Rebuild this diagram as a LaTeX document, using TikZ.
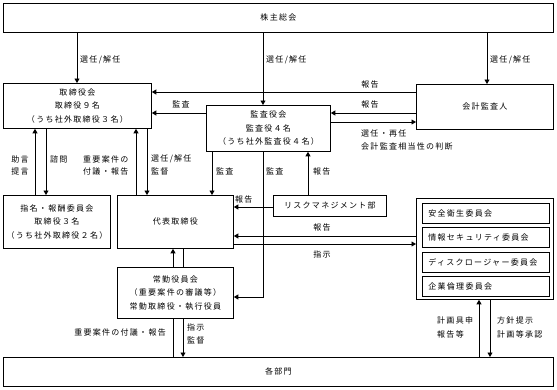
\documentclass[tikz,border=0pt]{standalone}
\usepackage{fontspec}
\setmainfont{Noto Sans CJK JP}[LetterSpace=16]
\usetikzlibrary{arrows.meta}
\begin{document}
\begin{tikzpicture}[x=1pt,y=-1pt,
  box/.style={draw,line width=0.8pt,fill=white,inner sep=0pt,anchor=north west,align=center,font=\fontsize{8}{13.5}\selectfont},
  sub/.style={box,minimum width=127pt,minimum height=20pt,inner xsep=6pt,text width=115pt,align=left},
  lab/.style={inner sep=0pt,font=\fontsize{8}{12}\selectfont},
  arr/.style={line width=0.8pt,-{Triangle[length=4.5pt,width=5pt]}},
  ln/.style={line width=0.8pt}]
\useasboundingbox (0,0) rectangle (557,389);
\fill[white] (0,0) rectangle (557,389);
% boxes
\node[box,minimum width=550pt,minimum height=29pt] (soukai) at (3,3) {株主総会};
\node[box,minimum width=148pt,minimum height=45pt] (tori) at (3,83) {取締役会\\取締役９名\\（うち社外取締役３名）};
\node[box,minimum width=124pt,minimum height=46pt] (kansa) at (206,105) {監査役会\\監査役４名\\（うち社外監査役４名）};
\node[box,minimum width=137pt,minimum height=45pt] (kaikei) at (416,84) {会計監査人};
\node[box,minimum width=107pt,minimum height=53pt] (shimei) at (3,195) {指名・報酬委員会\\取締役３名\\（うち社外取締役２名）};
\node[box,minimum width=116pt,minimum height=53pt] (daihyo) at (117,195) {代表取締役};
\node[box,minimum width=113pt,minimum height=21pt] (risk) at (273,195) {リスクマネジメント部};
\node[box,minimum width=137pt,minimum height=101pt] (comm) at (416,198) {};
\node[sub] (s1) at (422,203) {安全衛生委員会};
\node[sub] (s2) at (422,227.3) {情報セキュリティ委員会};
\node[sub] (s3) at (422,251.6) {ディスクロージャー委員会};
\node[sub] (s4) at (422,275.9) {企業倫理委員会};
\node[box,minimum width=116pt,minimum height=51pt] (joukin) at (117,267) {常勤役員会\\（重要案件の審議等）\\常勤取締役・執行役員};
\node[box,minimum width=550pt,minimum height=29pt] (kakubu) at (3,357) {各部門};
% guide coordinates
\coordinate (c77) at (77,0);
\coordinate (c263) at (263,0);
\coordinate (c487) at (487,0);
\coordinate (c35) at (35,0);
\coordinate (c46) at (46,0);
\coordinate (c136) at (136,0);
\coordinate (c147) at (147,0);
\coordinate (c212) at (212,0);
\coordinate (c308) at (308,0);
\coordinate (c173) at (173,0);
\coordinate (c183) at (183,0);
\coordinate (c479) at (479,0);
\coordinate (c490) at (490,0);
\coordinate (y92) at (0,92);
\coordinate (y113) at (0,113);
\coordinate (y122) at (0,122);
\coordinate (y207) at (0,207);
\coordinate (y236) at (0,236);
\coordinate (y244) at (0,244);
\coordinate (y297) at (0,297);
% connectors
\draw[arr] (soukai.south -| c77) -- (tori.north -| c77);
\draw[arr] (soukai.south -| c263) -- (kansa.north -| c263);
\draw[arr] (soukai.south -| c487) -- (kaikei.north -| c487);
\draw[arr] (kaikei.west |- y92) -- (tori.east |- y92);
\draw[arr] (kansa.west |- y113) -- (tori.east |- y113);
\draw[arr] (kaikei.west |- y113) -- (kansa.east |- y113);
\draw[arr] (kansa.east |- y122) -- (kaikei.west |- y122);
\draw[arr] (shimei.north -| c35) -- (tori.south -| c35);
\draw[arr] (tori.south -| c46) -- (shimei.north -| c46);
\draw[arr] (daihyo.north -| c136) -- (tori.south -| c136);
\draw[arr] (tori.south -| c147) -- (daihyo.north -| c147);
\draw[arr] (kansa.south -| c212) -- (daihyo.north -| c212);
\draw[arr] (kansa.south -| c263) |- (joukin.east |- y297);
\draw[arr] (risk.north -| c308) -- (kansa.south -| c308);
\draw[arr] (risk.west |- y207) -- (daihyo.east |- y207);
\draw[arr] (comm.west |- y236) -- (daihyo.east |- y236);
\draw[arr] (daihyo.east |- y244) -- (comm.west |- y244);
\draw[arr] (joukin.north -| c173) -- (daihyo.south -| c173);
\draw[ln] (daihyo.south -| c183) -- (joukin.north -| c183);
\draw[ln] (kakubu.north -| c173) -- (joukin.south -| c173);
\draw[arr] (joukin.south -| c183) -- (kakubu.north -| c183);
\draw[arr] (kakubu.north -| c479) -- (comm.south -| c479);
\draw[arr] (comm.south -| c490) -- (kakubu.north -| c490);
% labels
\node[lab,anchor=west] (l1) at (80,60) {選任/解任};
\node[lab,anchor=west] (l2) at (266,60) {選任/解任};
\node[lab,anchor=west] (l3) at (490,60) {選任/解任};
\node[lab] (l4) at (370,84) {報告};
\node[lab] (l5) at (370,104) {報告};
\node[lab] (l6) at (181,104) {監査};
\node[lab,anchor=west] (l7) at (361,133) {選任・再任};
\node[lab,anchor=west] (l8) at (361,146) {会計監査相当性の判断};
\node[lab] (l9) at (20,159) {助言};
\node[lab] (l10) at (20,171) {提言};
\node[lab,anchor=west] (l11) at (50,159) {諮問};
\node[lab,anchor=west] (l12) at (83,159) {重要案件の};
\node[lab,anchor=west] (l13) at (83,171) {付議・報告};
\node[lab,anchor=west] (l14) at (151,159) {選任/解任};
\node[lab,anchor=west] (l15) at (151,171) {監督};
\node[lab,anchor=west] (l16) at (216,171) {監査};
\node[lab,anchor=west] (l17) at (266,171) {監査};
\node[lab,anchor=west] (l18) at (313,171) {報告};
\node[lab,anchor=west] (l19) at (235,199) {報告};
\node[lab] (l20) at (322,227) {報告};
\node[lab] (l21) at (322,254) {指示};
\node[lab,anchor=west] (l22) at (187,327) {指示};
\node[lab,anchor=west] (l23) at (187,340) {監督};
\node[lab,anchor=east] (l24) at (166,332) {重要案件の付議・報告};
\node[lab,anchor=west] (l25) at (437,320) {計画具申};
\node[lab,anchor=west] (l26) at (437,334) {報告等};
\node[lab,anchor=west] (l27) at (497,320) {方針提示};
\node[lab,anchor=west] (l28) at (497,334) {計画等承認};
\end{tikzpicture}
\end{document}
